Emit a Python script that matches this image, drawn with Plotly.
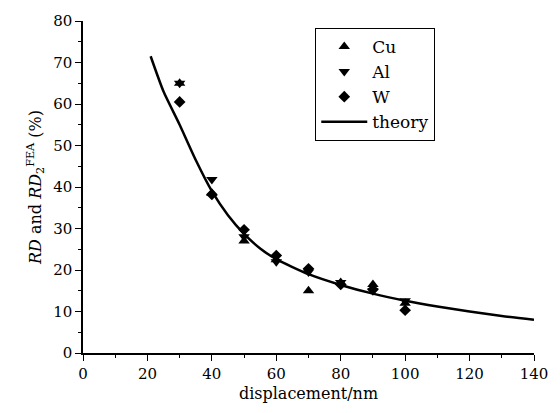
import plotly.graph_objects as go

# Measured points (displacement in nm, RD in %)
x_pts = [30, 40, 50, 60, 70, 80, 90, 100]
cu_vals = [65.0, 38.5, 27.0, 22.5, 15.0, 17.0, 16.5, 12.0]
al_vals = [65.0, 41.8, 28.0, 22.0, 19.5, 17.0, 15.0, 12.6]
w_vals = [60.5, 38.2, 29.7, 23.5, 20.3, 16.5, 15.3, 10.3]

# Theory curve
theory_x = [21, 25, 30, 35, 40, 45, 50, 55, 60, 70, 80, 90, 100, 110, 120, 130, 140]
theory_y = [71.5, 63.0, 55.0, 46.5, 39.0, 33.2, 28.7, 25.2, 22.6, 19.0, 16.4, 14.3, 12.6, 11.2, 10.0, 8.9, 8.0]

x_ticks = [0, 20, 40, 60, 80, 100, 120, 140]
y_ticks = [0, 10, 20, 30, 40, 50, 60, 70, 80]

FONT = "DejaVu Serif"

fig = go.Figure()
fig.add_trace(go.Scatter(x=x_pts, y=cu_vals, mode="markers", name="Cu",
                         marker=dict(symbol="triangle-up", size=10, color="black")))
fig.add_trace(go.Scatter(x=x_pts, y=al_vals, mode="markers", name="Al",
                         marker=dict(symbol="triangle-down", size=10, color="black")))
fig.add_trace(go.Scatter(x=x_pts, y=w_vals, mode="markers", name="W",
                         marker=dict(symbol="diamond", size=9, color="black")))
fig.add_trace(go.Scatter(x=theory_x, y=theory_y, mode="lines", name="theory",
                         line=dict(color="black", width=2.5, shape="spline", smoothing=0.6)))

fig.update_layout(
    width=560, height=413,
    margin=dict(l=83, r=18, t=17, b=60),
    paper_bgcolor="white", plot_bgcolor="white",
    font=dict(family=FONT, size=15, color="black"),
    showlegend=True,
    legend=dict(x=0.515, y=0.979, xanchor="left", yanchor="top",
                bordercolor="black", borderwidth=1, bgcolor="white",
                font=dict(family=FONT, size=17, color="black"),
                itemwidth=46, tracegroupgap=0),
    xaxis=dict(range=[0, 140], tickvals=x_ticks, ticktext=[str(v) for v in x_ticks],
               showgrid=False, zeroline=False, showline=True, linecolor="black", linewidth=1.5,
               ticks="outside", ticklen=6, tickwidth=1.2, tickcolor="black",
               minor=dict(dtick=10, ticks="outside", ticklen=3, tickcolor="black"),
               tickfont=dict(family=FONT, size=15),
               title=dict(text="displacement/nm", font=dict(family=FONT, size=16), standoff=6)),
    yaxis=dict(range=[0, 80], tickvals=y_ticks, ticktext=[str(v) for v in y_ticks],
               showgrid=False, zeroline=False, showline=True, linecolor="black", linewidth=1.5,
               ticks="outside", ticklen=6, tickwidth=1.2, tickcolor="black",
               minor=dict(dtick=5, ticks="outside", ticklen=3, tickcolor="black"),
               tickfont=dict(family=FONT, size=15),
               title=dict(text="<i>RD</i> and <i>RD</i><sub>2</sub><sup>FEA</sup> (%)",
                          font=dict(family=FONT, size=16), standoff=8)),
)

fig.write_html("out.html")
